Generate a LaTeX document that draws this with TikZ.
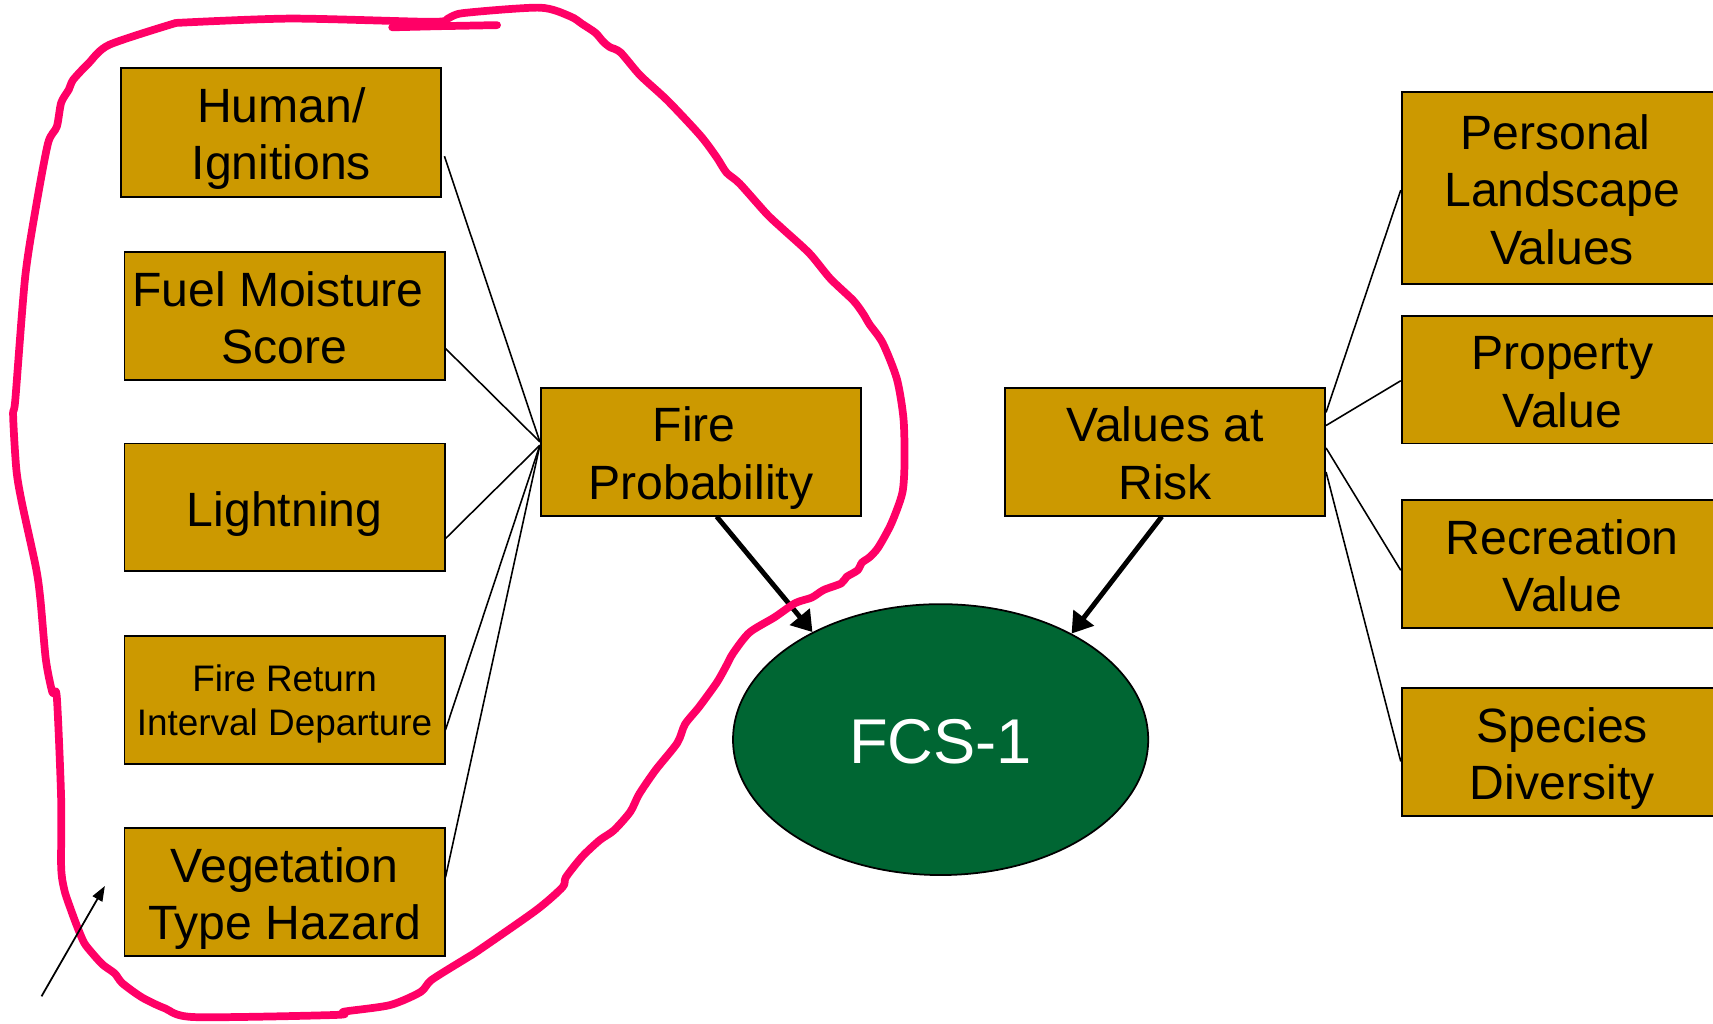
\documentclass[tikz,border=0pt]{standalone}
\usepackage{fontspec}
\setmainfont{Liberation Sans}
\usetikzlibrary{arrows.meta,calc,shapes.geometric}
\definecolor{gold}{HTML}{CC9900}
\definecolor{fcsgreen}{HTML}{006633}
\definecolor{pinkline}{HTML}{FF0066}
\newcommand\boxtext[2][2.1pt]{\raisebox{-#1}[\height][\depth]{\begin{tabular}{@{}c@{}}#2\end{tabular}}}
\tikzset{
  box/.style={draw=black, line width=0.5pt, fill=gold, minimum width=3.201cm,
    minimum height=1.278cm, inner sep=0pt,
    font=\fontsize{13.7}{16.4}\selectfont},
  smallbox/.style={box, font=\fontsize{10.5}{12.5}\selectfont},
  rbox/.style={box, minimum width=3.212cm},
  link/.style={draw=black, line width=0.45pt},
  bigarrow/.style={draw=black, line width=1.4pt,
    -{Triangle[length=0.2cm,width=0.25cm]}},
  thinarrow/.style={draw=black, line width=0.5pt,
    -{Triangle[length=0.15cm,width=0.11cm]}},
  pinkstroke/.style={draw=pinkline, line width=2.2pt, line join=round, line cap=round},
}
\begin{document}
\begin{tikzpicture}[x=0.010925cm, y=-0.010925cm]
\clip (0,0) rectangle (1568,937);
\fill[white] (0,0) rectangle (1568,937);

% left input boxes
\node[box, minimum height=1.289cm] (hum) at (257.5,121) {\boxtext{Human/\\Ignitions}};
\node[box] (fuel) at (260.5,289.5) {\boxtext{Fuel Moisture\kern3.8pt\\Score}};
\node[box] (light) at (260.5,464.5) {\boxtext{Lightning}};
\node[smallbox] (frid) at (260.5,640.5) {\boxtext[1.5pt]{Fire Return\\Interval Departure}};
\node[box] (vth) at (260.5,816.5) {\boxtext{Vegetation\\Type Hazard}};

% middle
\node[box] (fp) at (641.5,413.5) {\boxtext{Fire\kern3.8pt\\Probability}};
\node[box] (var) at (1066.5,413.5) {\boxtext{Values at\\Risk}};

% right boxes
\node[rbox, minimum height=1.923cm] (pers) at (1430,172) {\boxtext{Personal\kern3.8pt\\Landscape\\Values}};
\node[rbox] (prop) at (1430,347.5) {\boxtext{Property\\Value}};
\node[rbox] (recr) at (1430,516.5) {\boxtext{Recreation\\Value}};
\node[rbox] (spec) at (1430,688.5) {\boxtext{Species\\Diversity}};

% ellipse
\node[ellipse, draw=black, line width=0.5pt, fill=fcsgreen, minimum width=4.152cm,
  minimum height=2.709cm, inner sep=0pt, text=white,
  font=\fontsize{18}{21}\selectfont] (fcs) at (861,677) {\raisebox{-0.7pt}[\height][\depth]{FCS-1}};

% left connectors
\draw[link] ($(hum.east)+(2,22)$) -- ($(fp.west)+(0,-9)$);
\draw[link] ($(fuel.east)+(0,29.5)$) -- ($(fp.west)+(0,-9)$);
\draw[link] ($(light.east)+(0,28.5)$) -- ($(fp.west)+(0,-6)$);
\draw[link] ($(frid.east)+(0,27.5)$) -- ($(fp.west)+(0,-6)$);
\draw[link] ($(vth.east)+(0,-13.5)$) -- ($(fp.west)+(0,-6)$);

% right connectors
\draw[link] ($(var.east)+(0,-36)$) -- ($(pers.west)+(0,2)$);
\draw[link] ($(var.east)+(0,-24)$) -- ($(prop.west)+(0,1)$);
\draw[link] ($(var.east)+(0,-3.5)$) -- ($(recr.west)+(0,5.5)$);
\draw[link] ($(var.east)+(0,18.5)$) -- ($(spec.west)+(0,8.5)$);

% thick arrows
\draw[bigarrow] ($(fp.south)+(14.5,0)$) -- (fcs.140.6);
\draw[bigarrow] ($(var.south)+(-3,0)$) -- (fcs.39.2);

% hand-drawn pink outline
\draw[pinkstroke] plot[smooth, tension=0.45] coordinates {
 (161,21) (266,17) (395,20) (410,17) (424,12) (494,7) (522,15) (533,22) (545,30)
 (552,38) (558,43) (568,48) (586,69) (611,92) (641,124) (656,144) (665,158)
 (677,168) (702,196) (717,210) (741,232) (760,255) (781,275) (790,287) (796,297)
 (808,314) (821,347) (827,383) (828,422) (826,451) (816,479) (804,501) (796,510)
 (789,515) (785,522) (775,528) (770,534) (754,540) (743,547) (728,552) (709,565)
 (686,579) (671,598) (664,611) (656,625) (640,647) (627,663) (620,680) (600,705)
 (585,727) (577,743) (562,760) (549,769) (533,784) (518,803) (515,812) (491,833)
 (438,870) (427,877) (395,897) (385,908) (357,920) (315,926) (308,929) (178,931)
 (151,923) (130,913) (112,900) (105,891) (94,883) (84,872) (77,863) (71,849)
 (65,833) (59,815) (56,794) (56,732) (52,638) (48,634) (42,604) (37,549) (33,520)
 (20,460) (15,430) (12,380) (14,366) (23,254) (33,189) (44,131) (52,116) (56,94)
 (63,82) (67,73) (81,58) (100,41) (161,21)};
\draw[pinkstroke] (359,25) -- (400,24) -- (455,23);

% small pointer arrow
\coordinate (pa) at (38,912);
\coordinate (pb) at (96,811);
\draw[thinarrow] (pa) -- (pb);
\end{tikzpicture}
\end{document}
